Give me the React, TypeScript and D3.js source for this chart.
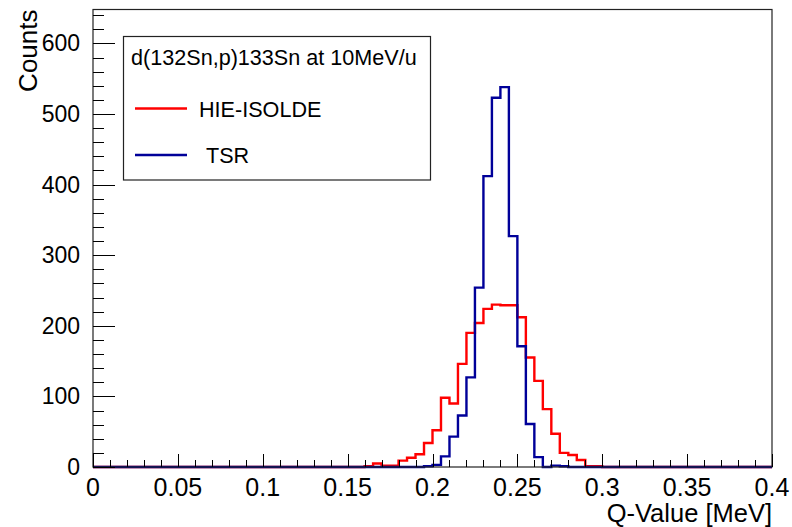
import React, { useRef, useEffect } from "react";
import * as d3 from "d3";

// bins of 0.005 MeV from 0 to 0.4 (80 bins)
const binLow = 0;
const binWidth = 0.005;

const hieIsolde = [
  0, 0, 0, 0, 0, 0, 0, 0, 0, 0,
  0, 0, 0, 0, 0, 0, 0, 0, 0, 0,
  0, 0, 0, 0, 0, 0, 0, 0, 0, 0,
  0, 0, 1, 5, 2, 2, 9, 13, 18, 34,
  52, 98, 90, 146, 190, 204, 224, 230, 229, 229,
  212, 155, 122, 82, 47, 20, 17, 10, 1, 1,
  0, 0, 0, 0, 0, 0, 0, 0, 0, 0,
  0, 0, 0, 0, 0, 0, 0, 0, 0, 0,
];

const tsr = [
  0, 0, 0, 0, 0, 0, 0, 0, 0, 0,
  0, 0, 0, 0, 0, 0, 0, 0, 0, 0,
  0, 0, 0, 0, 0, 0, 0, 0, 0, 0,
  0, 0, 0, 0, 0, 0, 0, 0, 0, 1,
  3, 15, 43, 73, 127, 254, 412, 523, 538, 327,
  171, 61, 14, 0, 2, 1, 0, 0, 0, 0,
  0, 0, 0, 0, 0, 0, 0, 0, 0, 0,
  0, 0, 0, 0, 0, 0, 0, 0, 0, 0,
];

const xTicks = [0, 0.05, 0.1, 0.15, 0.2, 0.25, 0.3, 0.35, 0.4];
const xTickLabels = ["0", "0.05", "0.1", "0.15", "0.2", "0.25", "0.3", "0.35", "0.4"];
const yTicks = [0, 100, 200, 300, 400, 500, 600];

const legendTitle = "d(132Sn,p)133Sn at 10MeV/u";
const seriesNames = ["HIE-ISOLDE", "TSR"];
const seriesColors = ["#ff0000", "#000099"];

const FONT = "'Liberation Sans', Arial, Helvetica, sans-serif";

const App = () => {
  const svgRef = useRef(null);

  useEffect(() => {
    const svg = d3.select(svgRef.current);
    svg.selectAll("*").remove();

    // frame of the pad
    const left = 93;
    const right = 772;
    const top = 9.5;
    const bottom = 467;

    const x = d3.scaleLinear().domain([0, 0.4]).range([left, right]);
    const y = d3.scaleLinear().domain([0, 648]).range([bottom, top]);

    // histograms (step outline)
    const stepLine = d3
      .line()
      .x((d) => x(d[0]))
      .y((d) => y(d[1]))
      .curve(d3.curveStepAfter);

    [hieIsolde, tsr].forEach((counts, k) => {
      const pts = counts.map((c, i) => [binLow + i * binWidth, c]);
      pts.push([binLow + counts.length * binWidth, counts[counts.length - 1]]);
      svg
        .append("path")
        .attr("d", stepLine(pts))
        .attr("fill", "none")
        .attr("stroke", seriesColors[k])
        .attr("stroke-width", 2.4)
        .attr("stroke-linejoin", "miter");
    });

    // frame
    svg
      .append("rect")
      .attr("x", left)
      .attr("y", top)
      .attr("width", right - left)
      .attr("height", bottom - top)
      .attr("fill", "none")
      .attr("stroke", "#222")
      .attr("stroke-width", 1.2);

    // y ticks (inside the frame)
    const yMinor = d3.range(0, 641, 20);
    svg
      .append("g")
      .selectAll("line")
      .data(yMinor)
      .enter()
      .append("line")
      .attr("x1", left)
      .attr("x2", (d) => (d % 100 === 0 ? left + 22 : left + 11))
      .attr("y1", (d) => Math.round(y(d)) + 0.5)
      .attr("y2", (d) => Math.round(y(d)) + 0.5)
      .attr("stroke", "#000")
      .attr("stroke-width", 1);

    svg
      .append("g")
      .selectAll("text")
      .data(yTicks)
      .enter()
      .append("text")
      .attr("x", 80)
      .attr("y", (d) => y(d) + 8)
      .attr("text-anchor", "end")
      .attr("font-family", FONT)
      .attr("font-size", 23)
      .text((d) => d);

    // x ticks
    const xMinor = d3.range(0, 41).map((i) => i * 0.01);
    svg
      .append("g")
      .selectAll("line")
      .data(xMinor)
      .enter()
      .append("line")
      .attr("x1", (d) => Math.round(x(d)) + 0.5)
      .attr("x2", (d) => Math.round(x(d)) + 0.5)
      .attr("y1", bottom)
      .attr("y2", (d, i) => (i % 5 === 0 ? bottom - 13 : bottom - 7))
      .attr("stroke", "#000")
      .attr("stroke-width", 1);

    svg
      .append("g")
      .selectAll("text")
      .data(xTicks)
      .enter()
      .append("text")
      .attr("x", (d) => x(d))
      .attr("y", 496)
      .attr("text-anchor", "middle")
      .attr("font-family", FONT)
      .attr("font-size", 25)
      .text((d, i) => xTickLabels[i]);

    // axis titles
    svg
      .append("text")
      .attr("x", right)
      .attr("y", 522)
      .attr("text-anchor", "end")
      .attr("font-family", FONT)
      .attr("font-size", 25.5)
      .text("Q-Value [MeV]");

    svg
      .append("text")
      .attr("transform", `translate(37, ${top}) rotate(-90)`)
      .attr("text-anchor", "end")
      .attr("font-family", FONT)
      .attr("font-size", 26)
      .text("Counts");

    // legend
    const legend = svg.append("g");
    legend
      .append("rect")
      .attr("x", 123.5)
      .attr("y", 36.5)
      .attr("width", 307)
      .attr("height", 143.5)
      .attr("fill", "#fff")
      .attr("stroke", "#222")
      .attr("stroke-width", 1.2);

    legend
      .append("text")
      .attr("x", 131)
      .attr("y", 65)
      .attr("font-family", FONT)
      .attr("font-size", 21.6)
      .text(legendTitle);

    const rowY = [108.5, 155];
    seriesNames.forEach((name, i) => {
      legend
        .append("line")
        .attr("x1", 135)
        .attr("x2", 187)
        .attr("y1", rowY[i])
        .attr("y2", rowY[i])
        .attr("stroke", seriesColors[i])
        .attr("stroke-width", 2.4);
      legend
        .append("text")
        .attr("x", i === 0 ? 199 : 206)
        .attr("y", rowY[i] + 8)
        .attr("font-family", FONT)
        .attr("font-size", 21.6)
        .text(name);
    });
  }, []);

  return (
    <svg
      ref={svgRef}
      width={792}
      height={527}
      style={{ position: "absolute", left: 0, top: 0, background: "#fff" }}
    ></svg>
  );
};

export default App;
